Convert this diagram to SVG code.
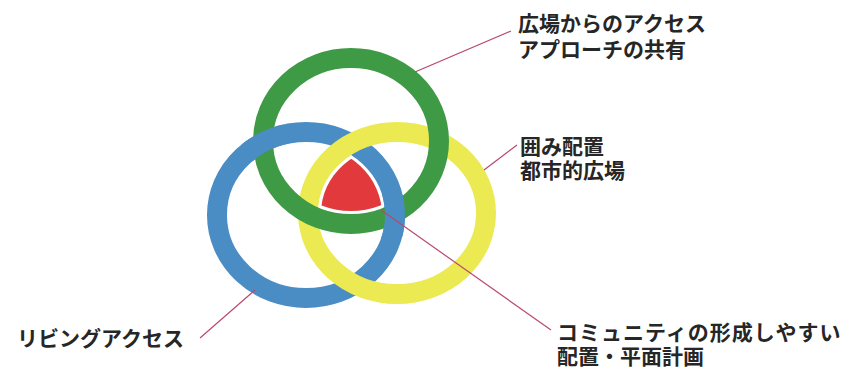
<svg xmlns="http://www.w3.org/2000/svg" width="848" height="369" viewBox="0 0 848 369">
<style>
.ring{fill:none;stroke-width:20}
.g{stroke:#3f9a45}
.b{stroke:#4a8cc4}
.y{stroke:#ecea52}
.lbl{font-family:"Noto Sans CJK JP","Noto Sans",sans-serif;font-weight:700;font-size:21px;fill:#262626}
.lead{stroke:#b9486f;stroke-width:1.2;fill:none}
</style>
<defs>
<clipPath id="cross"><circle cx="265" cy="140" r="24"/><circle cx="391" cy="216" r="24"/></clipPath>
<clipPath id="cy"><ellipse cx="397" cy="213" rx="76" ry="68"/></clipPath>
<clipPath id="cb"><ellipse cx="306" cy="215" rx="76" ry="70"/></clipPath>
</defs>
<rect width="848" height="369" fill="#ffffff"/>
<g id="ring-blue"><ellipse class="ring b" cx="306" cy="215" rx="89" ry="83"/></g>
<g id="ring-yellow"><ellipse class="ring y" cx="397" cy="213" rx="89" ry="81"/></g>
<g id="ring-green"><ellipse class="ring g" cx="351" cy="141" rx="88" ry="83"/></g>
<g id="ring-blue-over"><ellipse class="ring b" cx="306" cy="215" rx="89" ry="83" clip-path="url(#cross)"/></g>
<g id="center-core"><g clip-path="url(#cb)"><g clip-path="url(#cy)"><ellipse cx="351" cy="141" rx="75" ry="70" fill="#e1393c"/></g></g></g>
<g id="connectors">
<line class="lead" x1="415" y1="72" x2="511" y2="31"/>
<line class="lead" x1="484" y1="170" x2="517" y2="145"/>
<line class="lead" x1="200" y1="338" x2="255" y2="290"/>
<line class="lead" x1="381" y1="210" x2="551" y2="330"/>
</g>
<g id="label-plaza"><text class="lbl" x="518" y="31">広場からのアクセス</text><text class="lbl" x="518" y="57">アプローチの共有</text></g>
<g id="label-enclosure"><text class="lbl" x="520" y="154">囲み配置</text><text class="lbl" x="520" y="178">都市的広場</text></g>
<g id="label-living"><text class="lbl" x="17" y="346">リビングアクセス</text></g>
<g id="label-community"><text class="lbl" x="557" y="340" letter-spacing="1">コミュニティの形成しやすい</text><text class="lbl" x="557" y="364">配置・平面計画</text></g>
</svg>
